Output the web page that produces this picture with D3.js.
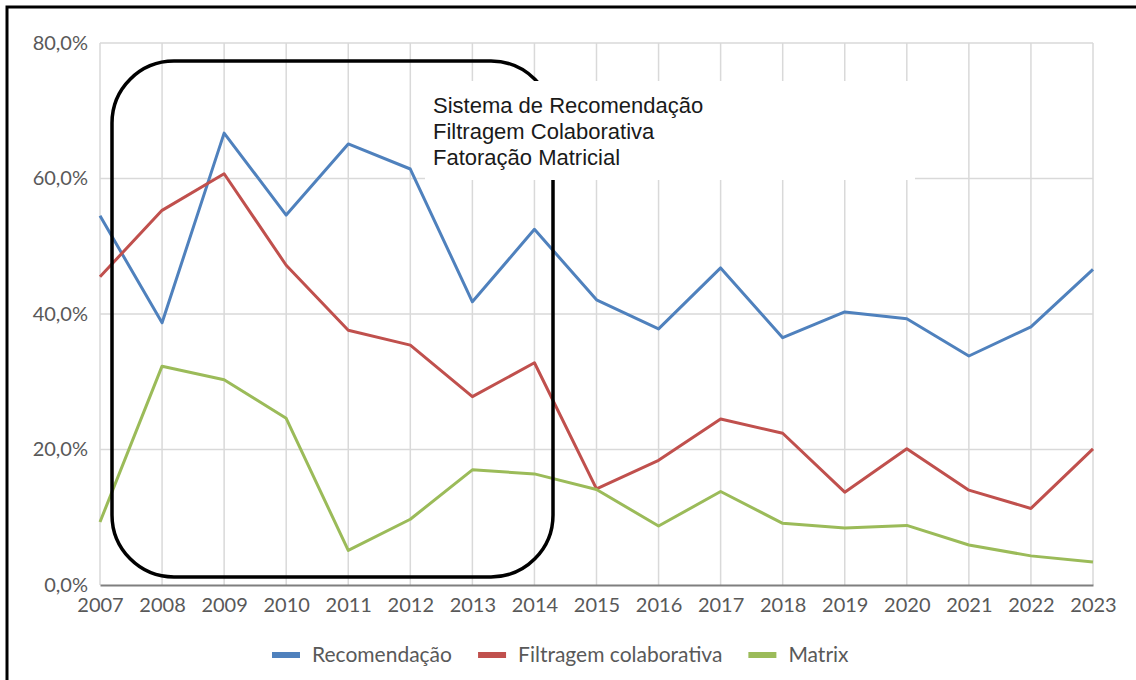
<!DOCTYPE html>
<html>
<head>
<meta charset="utf-8">
<script src="https://cdn.jsdelivr.net/npm/d3@7"></script>
<style>
  html, body { margin: 0; padding: 0; background: #fff; }
  svg { display: block; }
</style>
</head>
<body>
<svg id="chart" width="1136" height="680"></svg>
<script>
// Yearly share of publications per topic
const years = [2007, 2008, 2009, 2010, 2011, 2012, 2013, 2014, 2015,
               2016, 2017, 2018, 2019, 2020, 2021, 2022, 2023];
const recomendacao = [54.5, 38.7, 66.7, 54.6, 65.1, 61.4, 41.8, 52.5, 42.1,
                      37.8, 46.8, 36.5, 40.3, 39.3, 33.8, 38.1, 46.6];
const filtragem = [45.5, 55.3, 60.7, 47.2, 37.6, 35.4, 27.8, 32.8, 14.2,
                   18.4, 24.5, 22.4, 13.7, 20.1, 14.0, 11.3, 20.1];
const matrix = [9.3, 32.3, 30.3, 24.6, 5.1, 9.7, 17.0, 16.4, 14.1,
                8.7, 13.8, 9.1, 8.4, 8.8, 5.9, 4.3, 3.4];
const yTicks = [0, 20, 40, 60, 80];
const seriesNames = ["Recomendação", "Filtragem colaborativa", "Matrix"];
const seriesColors = ["#4F81BD", "#C0504D", "#9BBB59"];
const noteLines = ["Sistema de Recomendação", "Filtragem Colaborativa", "Fatoração Matricial"];

(function draw() {
  const series = [recomendacao, filtragem, matrix];
  const svg = d3.select("#chart");
  const plotLeft = 100, plotRight = 1093, plotTop = 43, plotBottom = 585;
  const labelFont = "Lato, 'Open Sans', sans-serif";

  const x = d3.scalePoint().domain(years).range([plotLeft, plotRight]);
  const y = d3.scaleLinear().domain([0, 80]).range([plotBottom, plotTop]);
  const fmt = v => d3.format(".1f")(v).replace(".", ",") + "%";

  // outer frame (top and left edges)
  svg.append("path")
    .attr("d", "M7,680 L7,7 L1136,7")
    .attr("fill", "none").attr("stroke", "#000").attr("stroke-width", 3);

  // vertical grid
  svg.append("g").selectAll("line").data(years).join("line")
    .attr("x1", d => x(d)).attr("x2", d => x(d))
    .attr("y1", plotTop).attr("y2", plotBottom)
    .attr("stroke", "#d9d9d9").attr("stroke-width", 1.5);

  // horizontal grid
  svg.append("g").selectAll("line").data(yTicks.filter(d => d > 0)).join("line")
    .attr("x1", plotLeft).attr("x2", plotRight)
    .attr("y1", d => y(d)).attr("y2", d => y(d))
    .attr("stroke", "#d9d9d9").attr("stroke-width", 1.5);

  // y axis labels
  const yAxis = d3.axisLeft(y).tickValues(yTicks).tickFormat(fmt).tickSize(0).tickPadding(12);
  svg.append("g").attr("transform", `translate(${plotLeft},0)`).call(yAxis)
    .call(g => g.select(".domain").remove())
    .selectAll("text")
    .attr("font-family", labelFont)
    .attr("font-size", 20).attr("fill", "#595959");

  // x axis
  const xAxis = d3.axisBottom(x).tickSize(0).tickPadding(13);
  svg.append("g").attr("transform", `translate(0,${plotBottom})`).call(xAxis)
    .call(g => g.select(".domain").attr("stroke", "#7f7f7f").attr("stroke-width", 2))
    .selectAll("text")
    .attr("font-family", labelFont)
    .attr("font-size", 20).attr("fill", "#595959");

  // series lines
  const line = d3.line().x((d, i) => x(years[i])).y(d => y(d));
  svg.append("g").selectAll("path").data(series).join("path")
    .attr("d", d => line(d))
    .attr("fill", "none")
    .attr("stroke", (d, i) => seriesColors[i])
    .attr("stroke-width", 3)
    .attr("stroke-linejoin", "round");

  // highlight frame around 2007–2014
  svg.append("rect")
    .attr("x", 112).attr("y", 61).attr("width", 441).attr("height", 516)
    .attr("rx", 62).attr("ry", 62)
    .attr("fill", "none").attr("stroke", "#000").attr("stroke-width", 3.5);

  // note box
  svg.append("rect")
    .attr("x", 425).attr("y", 81).attr("width", 490).attr("height", 99)
    .attr("fill", "#fff");
  svg.append("g").selectAll("text").data(noteLines).join("text")
    .attr("x", 433).attr("y", (d, i) => 113 + i * 26)
    .attr("font-family", "'Liberation Sans', Arial, sans-serif")
    .attr("font-size", 22).attr("fill", "#1a1a1a")
    .text(d => d);

  // legend
  const legend = svg.append("g").attr("font-family", labelFont)
    .attr("font-size", 21).attr("fill", "#595959");
  const items = legend.selectAll("g").data(seriesNames).join("g");
  items.append("rect").attr("width", 28).attr("height", 6).attr("y", -3)
    .attr("fill", (d, i) => seriesColors[i]);
  items.append("text").attr("x", 40).attr("dy", "0.35em").text(d => d);
  const widths = [];
  items.each(function () { widths.push(this.getBBox().width); });
  const gap = 26;
  let start = 272;
  items.attr("transform", (d, i) => {
    const tx = start;
    start += widths[i] + gap;
    return `translate(${tx},655)`;
  });
})();
</script>
</body>
</html>
